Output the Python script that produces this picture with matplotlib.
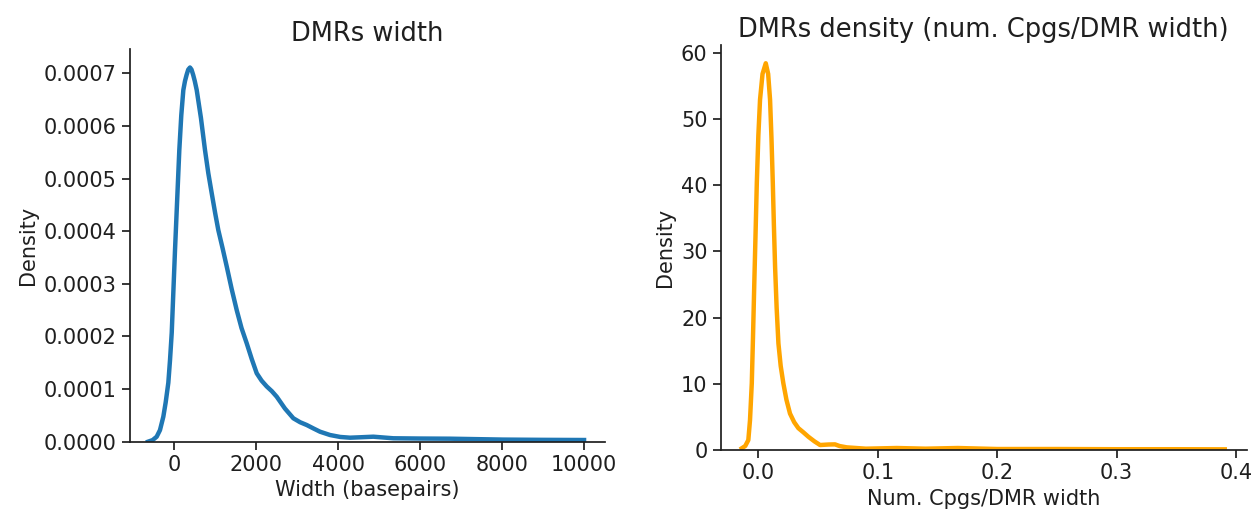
import matplotlib
matplotlib.use("Agg")
import matplotlib.pyplot as plt
from matplotlib.ticker import FormatStrFormatter

# DMR width density
width_bp = [-642, -530, -430, -350, -268, -210, -146, -105, -63, 17, 70, 122,
            170, 220, 260, 300, 340, 383, 420, 460, 500, 547, 650, 749, 830,
            913, 1000, 1074, 1180, 1279, 1400, 1523, 1640, 1767, 1890, 2011,
            2130, 2255, 2380, 2499, 2700, 2905, 3070, 3232, 3400, 3556, 3800,
            4050, 4289, 4570, 4857, 5100, 5345, 6000, 6729, 8023, 9000, 10000]
width_density = [0.0, 0.000003, 0.0000095, 0.000022, 0.0000475, 0.000075,
                 0.000112, 0.000155, 0.000207, 0.000364, 0.000460, 0.000554,
                 0.000620, 0.000668, 0.000685, 0.000697, 0.000707, 0.000711,
                 0.000707, 0.000697, 0.000685, 0.000668, 0.000615, 0.000554,
                 0.000510, 0.000472, 0.000433, 0.000402, 0.000367, 0.000333,
                 0.000290, 0.000250, 0.000216, 0.000187, 0.000157, 0.000130,
                 0.000116, 0.000105, 0.000096, 0.0000855, 0.000063, 0.0000445,
                 0.000037, 0.0000317, 0.000025, 0.000019, 0.0000127, 0.000009,
                 0.0000076, 0.0000085, 0.0000095, 0.000008, 0.0000065,
                 0.000006, 0.0000057, 0.000004, 0.0000035, 0.0000032]

# CpG / width ratio density
ratio = [-0.0139, -0.011, -0.0084, -0.007, -0.0055, -0.0045, -0.0034, -0.0023,
         -0.0013, 0.0, 0.0014, 0.0035, 0.0062, 0.0082, 0.0098, 0.011, 0.0121,
         0.013, 0.0140, 0.0153, 0.0168, 0.0187, 0.0209, 0.0235, 0.0265, 0.030,
         0.0335, 0.0375, 0.0419, 0.047, 0.0517, 0.056, 0.059, 0.0642, 0.068,
         0.074, 0.09, 0.116, 0.14, 0.167, 0.2, 0.25, 0.3, 0.35, 0.3906]
ratio_density = [0.26, 0.6, 1.5, 4.5, 10.1, 17.0, 25.2, 33.0, 40.3, 47.5,
                 52.9, 56.8, 58.4, 56.8, 52.9, 47.0, 40.3, 34.0, 27.7, 21.5,
                 16.1, 12.7, 10.1, 7.6, 5.5, 4.2, 3.3, 2.7, 2.0, 1.3, 0.75,
                 0.8, 0.83, 0.85, 0.6, 0.4, 0.2, 0.3, 0.2, 0.3, 0.15, 0.15,
                 0.12, 0.12, 0.1]

width_xticks = [0, 2000, 4000, 6000, 8000, 10000]
width_yticks = [0.0, 0.0001, 0.0002, 0.0003, 0.0004, 0.0005, 0.0006, 0.0007]
ratio_xticks = [0.0, 0.1, 0.2, 0.3, 0.4]
ratio_yticks = [0, 10, 20, 30, 40, 50, 60]

dark = '#1f1f1f'
plt.rcParams.update({
    'font.family': 'DejaVu Sans',
    'text.color': dark,
    'axes.labelcolor': dark,
    'axes.edgecolor': dark,
    'axes.linewidth': 1.25,
    'xtick.color': dark,
    'ytick.color': dark,
    'xtick.major.size': 6,
    'ytick.major.size': 6,
    'xtick.major.width': 1.25,
    'ytick.major.width': 1.25,
    'xtick.labelsize': 15,
    'ytick.labelsize': 15,
    'axes.labelsize': 15,
    'axes.titlesize': 18.5,
})

fig = plt.figure(figsize=(12.55, 5.16), dpi=100)
ax1 = fig.add_axes([0.1036, 0.144, 0.3785, 0.7605])
ax2 = fig.add_axes([0.5743, 0.1279, 0.4191, 0.7849])

ax1.plot(width_bp, width_density, color='#1f77b4', lw=3.2, solid_joinstyle='round')
ax1.set_xlim(-1081, 10512)
ax1.set_ylim(0, 0.0007456)
ax1.set_xticks(width_xticks)
ax1.set_yticks(width_yticks)
ax1.yaxis.set_major_formatter(FormatStrFormatter('%.4f'))
ax1.set_title('DMRs width')
ax1.set_xlabel('Width (basepairs)')
ax1.set_ylabel('Density')

ax2.plot(ratio, ratio_density, color='orange', lw=3.2, solid_joinstyle='round')
ax2.set_xlim(-0.0315, 0.409)
ax2.set_ylim(0, 61.16)
ax2.set_xticks(ratio_xticks)
ax2.set_yticks(ratio_yticks)
ax2.xaxis.set_major_formatter(FormatStrFormatter('%.1f'))
ax2.set_title('DMRs density (num. Cpgs/DMR width)')
ax2.set_xlabel('Num. Cpgs/DMR width')
ax2.set_ylabel('Density')

for ax in (ax1, ax2):
    ax.spines['top'].set_visible(False)
    ax.spines['right'].set_visible(False)

fig.savefig('out.png', dpi=100)
